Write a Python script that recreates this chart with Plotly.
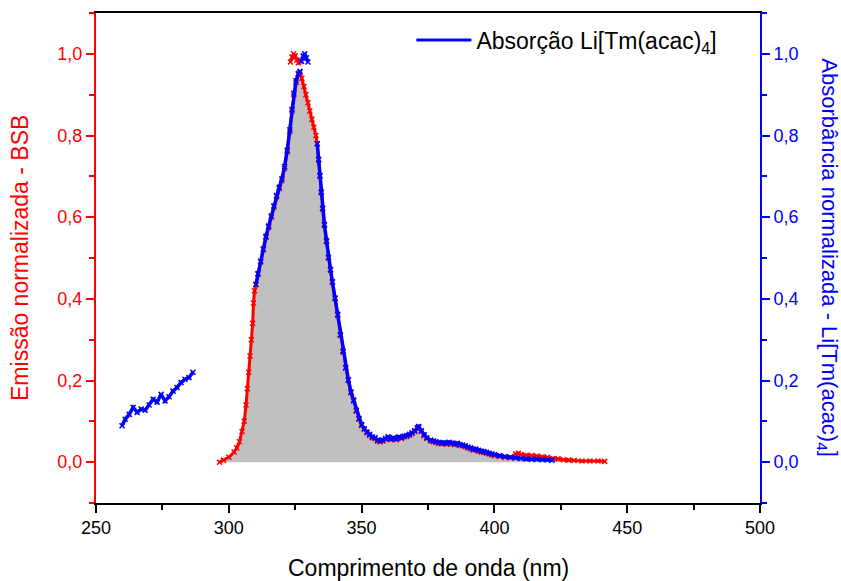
import plotly.graph_objects as go

# Emission spectrum (BSB), normalized
em_wl = [296.5, 298, 300, 302, 303, 304, 305, 305.8, 306.5, 307, 307.5, 308, 308.5, 309, 309.3,
         309.7, 310.2, 311, 312, 313, 314, 315, 316, 317, 318, 319, 320, 321, 322, 323, 323.8,
         324.5, 325.3, 326.2, 326.8, 327.5, 328.3, 329, 329.8, 330.5, 331.3, 332, 332.8, 333.3,
         333.8, 334.3, 334.8, 335.3, 336, 336.8, 337.5, 338.3, 339, 340, 341, 342, 343, 344, 345,
         346, 347, 348, 349, 350, 351, 352, 353, 354, 355, 356, 357, 358, 359, 360, 361, 362, 363,
         364, 365, 366, 367, 368, 369, 370, 371, 371.5, 372.5, 373.5, 374.5, 376, 377, 378, 379,
         380, 381, 382, 383, 384, 385, 386, 387, 388, 389, 390, 391, 392, 393, 394, 395, 396, 397,
         398, 399, 400, 402, 404, 406, 408, 409, 410, 412, 414, 416, 418, 420, 422, 424, 426, 428,
         430, 433, 436, 439, 441.5]
em_val = [0.000, 0.005, 0.012, 0.025, 0.035, 0.050, 0.075, 0.100, 0.140, 0.180, 0.220, 0.260,
          0.300, 0.340, 0.390, 0.420, 0.435, 0.460, 0.490, 0.520, 0.550, 0.575, 0.600, 0.625,
          0.650, 0.670, 0.690, 0.720, 0.760, 0.810, 0.860, 0.900, 0.930, 0.950, 0.955, 0.940,
          0.920, 0.900, 0.880, 0.860, 0.840, 0.820, 0.800, 0.780, 0.740, 0.700, 0.660, 0.620,
          0.580, 0.540, 0.500, 0.470, 0.440, 0.400, 0.360, 0.310, 0.270, 0.230, 0.200, 0.170,
          0.150, 0.125, 0.105, 0.090, 0.080, 0.072, 0.066, 0.060, 0.058, 0.052, 0.050, 0.052,
          0.056, 0.060, 0.055, 0.058, 0.055, 0.060, 0.058, 0.062, 0.063, 0.066, 0.070, 0.075,
          0.082, 0.085, 0.075, 0.065, 0.058, 0.052, 0.050, 0.048, 0.046, 0.045, 0.046, 0.044,
          0.047, 0.045, 0.043, 0.044, 0.041, 0.040, 0.038, 0.035, 0.033, 0.030, 0.030, 0.027,
          0.025, 0.024, 0.022, 0.020, 0.018, 0.016, 0.014, 0.012, 0.011, 0.020, 0.022, 0.019,
          0.017, 0.016, 0.015, 0.013, 0.012, 0.009, 0.008, 0.006, 0.005, 0.004, 0.003, 0.003,
          0.003, 0.002]
# Saturated emission readings near the maximum
em_top_wl = [323.2, 323.8, 324.4, 325.0, 325.6, 326.2, 326.8]
em_top_val = [0.980, 0.992, 1.000, 0.995, 0.985, 0.978, 0.982]

# Absorption spectrum of Li[Tm(acac)4], normalized (None = no data)
ab_wl = [259.8, 261, 262.5, 264, 265.5, 267, 268.5, 270, 271.5, 273, 274.5, 276, 277.5, 279,
         280.5, 282, 283.5, 285, 286.5, None,
         310.2, 311, 312, 313, 314, 315, 316, 317, 318, 319, 320, 321, 322, 323, 323.8, 324.5,
         325.3, 326.2, 326.8, None,
         327.4, 328.0, 328.6, 329.2, 329.8, None,
         333.3, 333.8, 334.3, 334.8, 335.3, 336, 336.8, 337.5, 338.3, 339, 340, 341, 342, 343,
         344, 345, 346, 347, 348, 349, 350, 351, 352, 353, 354, 355, 356, 357, 358, 359, 360,
         361, 362, 363, 364, 365, 366, 367, 368, 369, 370, 371, 371.5, 372.5, 373.5, 374.5, 376,
         377, 378, 379, 380, 381, 382, 383, 384, 385, 386, 387, 388, 389, 390, 391, 392, 393,
         394, 395, 396, 397, 398, 399, 400, 402, 404, 406, 408, 410, 412, 414, 416, 418, 420,
         421.7]
ab_val = [0.089, 0.105, 0.117, 0.134, 0.122, 0.130, 0.127, 0.140, 0.154, 0.147, 0.166, 0.150,
          0.160, 0.174, 0.183, 0.195, 0.203, 0.207, 0.220, None,
          0.435, 0.462, 0.492, 0.522, 0.553, 0.578, 0.603, 0.628, 0.653, 0.673, 0.694, 0.724,
          0.764, 0.814, 0.864, 0.904, 0.934, 0.952, 0.957, None,
          0.982, 0.995, 1.000, 0.990, 0.980, None,
          0.780, 0.742, 0.702, 0.662, 0.622, 0.582, 0.542, 0.502, 0.472, 0.442, 0.402, 0.362,
          0.312, 0.272, 0.232, 0.202, 0.172, 0.152, 0.127, 0.107, 0.092, 0.082, 0.074, 0.068,
          0.062, 0.060, 0.054, 0.052, 0.054, 0.058, 0.062, 0.057, 0.060, 0.057, 0.062, 0.060,
          0.064, 0.065, 0.068, 0.072, 0.077, 0.084, 0.087, 0.077, 0.067, 0.060, 0.054, 0.052,
          0.050, 0.048, 0.047, 0.048, 0.046, 0.049, 0.047, 0.045, 0.046, 0.043, 0.042, 0.040,
          0.037, 0.035, 0.032, 0.032, 0.029, 0.027, 0.026, 0.024, 0.022, 0.020, 0.018, 0.016,
          0.014, 0.012, 0.010, 0.009, 0.008, 0.007, 0.007, 0.006, 0.006, 0.005]

RED = "#ff0000"
BLUE = "#0000ff"
FONT = "Liberation Sans, Arial, sans-serif"


def marker_for(color):
    return dict(symbol="x-thin", size=5, color=color, line=dict(width=1.5, color=color))


fig = go.Figure()

# Gray area under the emission band
fig.add_trace(go.Scatter(x=em_wl, y=em_val, mode="lines", fill="tozeroy",
                         fillcolor="#c0c0c0", line=dict(color="#cccccc", width=1),
                         showlegend=False, hoverinfo="skip"))

# Emission curve
fig.add_trace(go.Scatter(x=em_wl + [None] + em_top_wl, y=em_val + [None] + em_top_val,
                         mode="lines+markers", line=dict(color=RED, width=3),
                         marker=marker_for(RED), connectgaps=False,
                         showlegend=False, name="Emissão BSB"))

# Absorption curve on the secondary axis
fig.add_trace(go.Scatter(x=ab_wl, y=ab_val, yaxis="y2", mode="lines+markers",
                         line=dict(color=BLUE, width=3.5),
                         marker=marker_for(BLUE), connectgaps=False,
                         showlegend=False))
fig.add_trace(go.Scatter(x=[None], y=[None], yaxis="y2", mode="lines",
                         line=dict(color=BLUE, width=3),
                         name="Absorção Li[Tm(acac)<sub>4</sub>]"))

yticks = [0.0, 0.2, 0.4, 0.6, 0.8, 1.0]
xticks = [250, 300, 350, 400, 450, 500]

fig.update_layout(
    width=841, height=581,
    margin=dict(l=96, r=81, t=13, b=78),
    paper_bgcolor="white", plot_bgcolor="white",
    separators=", ",
    font=dict(family=FONT, size=18, color="black"),
    xaxis=dict(range=[250, 500], tickvals=xticks, showgrid=False, zeroline=False,
               showline=True, linecolor="black", linewidth=1.5, mirror=True,
               ticks="outside", ticklen=8, tickwidth=1.5, tickcolor="black",
               minor=dict(dtick=25, ticks="outside", ticklen=5, tickwidth=1.5,
                          tickcolor="black", tick0=250),
               tickfont=dict(size=18, color="black")),
    yaxis=dict(range=[-0.1, 1.1], tickvals=yticks, tickformat=".1f", showgrid=False,
               zeroline=False, showline=True, linecolor=RED, linewidth=2,
               ticks="outside", ticklen=8, tickwidth=1.5, tickcolor=RED,
               minor=dict(dtick=0.1, tick0=0, ticks="outside", ticklen=5, tickwidth=1.5,
                          tickcolor=RED),
               tickfont=dict(size=18, color=RED)),
    yaxis2=dict(range=[-0.1, 1.1], tickvals=yticks, tickformat=".1f", overlaying="y",
                side="right", showgrid=False, zeroline=False, showline=True,
                linecolor=BLUE, linewidth=2, ticks="outside", ticklen=8, tickwidth=1.5,
                tickcolor=BLUE,
                minor=dict(dtick=0.1, tick0=0, ticks="outside", ticklen=5, tickwidth=1.5,
                           tickcolor=BLUE),
                tickfont=dict(size=18, color=BLUE)),
    legend=dict(x=0.475, y=0.945, xanchor="left", yanchor="middle",
                bgcolor="rgba(0,0,0,0)", font=dict(size=23, color="black"),
                itemwidth=55),
    annotations=[
        dict(text="Comprimento de onda (nm)", x=0.5, y=-0.133, xref="paper", yref="paper",
             xanchor="center", yanchor="middle", showarrow=False,
             font=dict(size=23, color="black")),
        dict(text="Emissão normalizada - BSB", x=-0.1145, y=0.5, xref="paper", yref="paper",
             xanchor="center", yanchor="middle", textangle=-90, showarrow=False,
             font=dict(size=23, color=RED)),
        dict(text="Absorbância normalizada - Li[Tm(acac)<sub>4</sub>]", x=1.102, y=0.5,
             xref="paper", yref="paper", xanchor="center", yanchor="middle", textangle=90,
             showarrow=False, font=dict(size=22, color=BLUE)),
    ],
)

fig.write_html("out.html")
